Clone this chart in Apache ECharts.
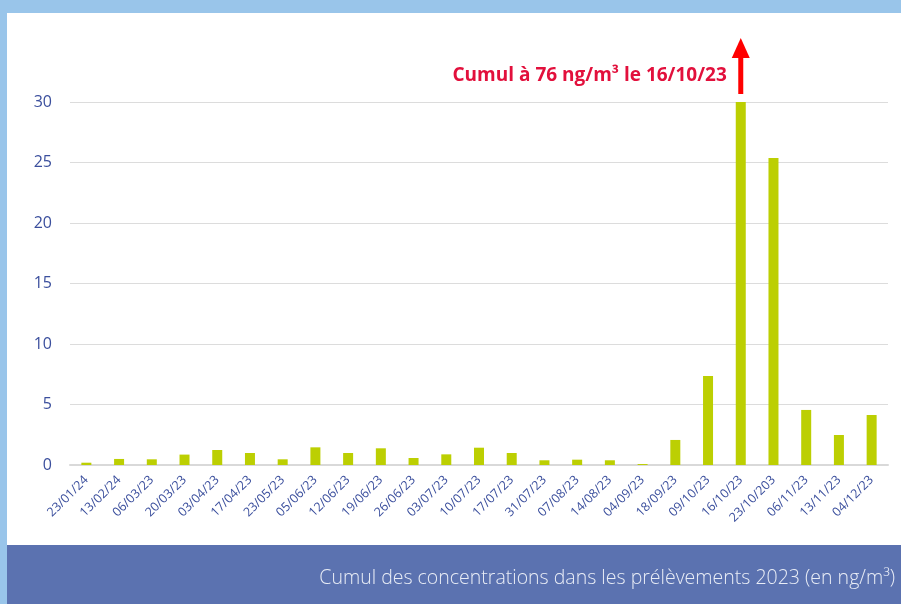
<!DOCTYPE html>
<html>
<head>
<meta charset="utf-8">
<script src="https://cdn.jsdelivr.net/npm/echarts@6/dist/echarts.min.js"></script>
<style>
  html, body { margin: 0; padding: 0; background: #99c5ea; }
  #chart { width: 901px; height: 604px; }
</style>
</head>
<body>
<div id="chart"></div>
<script>
// Sampling dates (labels as printed on the report)
const dates = [
  '23/01/24', '13/02/24', '06/03/23', '20/03/23', '03/04/23', '17/04/23',
  '23/05/23', '05/06/23', '12/06/23', '19/06/23', '26/06/23', '03/07/23',
  '10/07/23', '17/07/23', '31/07/23', '07/08/23', '14/08/23', '04/09/23',
  '18/09/23', '09/10/23', '16/10/23', '23/10/203', '06/11/23', '13/11/23',
  '04/12/23'
];

// Cumulated concentration per sample (ng/m³)
const cumul = [
  0.19, 0.5, 0.47, 0.86, 1.24, 0.99,
  0.47, 1.46, 0.99, 1.38, 0.58, 0.88,
  1.43, 0.99, 0.39, 0.44, 0.39, 0.08,
  2.07, 7.36, 76, 25.37, 4.55, 2.48,
  4.13
];

// Y axis ticks
const yTicks = [0, 5, 10, 15, 20, 25, 30];

// Peak annotation
const peakDate = '16/10/23';
const peakValue = 76;
const peakText = 'Cumul à ' + peakValue + ' ng/m³ le ' + peakDate;
const footerText = 'Cumul des concentrations dans les prélèvements 2023 (en ng/m³)';

const chart = echarts.init(document.getElementById('chart'), null, { renderer: 'canvas' });

const axisBlue = '#3b4f9d';

chart.setOption({
  backgroundColor: '#99c5ea',
  animation: false,
  grid: { left: 70, right: 13, top: 102, bottom: 139 },
  xAxis: {
    type: 'category',
    data: dates,
    axisLine: { lineStyle: { color: '#d9d9d9', width: 2 } },
    axisTick: { show: false },
    axisLabel: {
      rotate: 45,
      interval: 0,
      color: axisBlue,
      fontFamily: 'Open Sans',
      fontSize: 12.5,
      margin: 13
    }
  },
  yAxis: {
    type: 'value',
    min: yTicks[0],
    max: yTicks[yTicks.length - 1],
    interval: yTicks[1] - yTicks[0],
    axisLine: { show: false },
    axisTick: { show: false },
    splitLine: { lineStyle: { color: '#dcdcdc', width: 1 } },
    axisLabel: {
      color: axisBlue,
      fontFamily: 'Open Sans',
      fontSize: 16,
      margin: 18
    }
  },
  series: [{
    type: 'bar',
    data: cumul,
    barWidth: 10,
    clip: true,
    itemStyle: { color: '#bccf02' },
    z: 3
  }]
});

function drawDecor() {
  const top = chart.convertToPixel({ xAxisIndex: 0, yAxisIndex: 0 }, [peakDate, yTicks[yTicks.length - 1]]);
  const ax = top[0];
  const ay = top[1];
  chart.setOption({
    graphic: [
      // white panel with rounded upper-right corner
      {
        type: 'rect', z: -10, silent: true,
        shape: { x: 7, y: 13, width: 964, height: 560, r: [0, 66, 0, 0] },
        style: { fill: '#ffffff' }
      },
      // footer band
      {
        type: 'rect', z: -5, silent: true,
        shape: { x: 7, y: 545, width: 894, height: 59 },
        style: { fill: '#5b72b0' }
      },
      {
        type: 'text', z: 10, silent: true,
        x: 895, y: 578,
        style: {
          text: footerText,
          fill: '#e9edf6',
          font: '300 19.5px "Open Sans", "Noto Sans", sans-serif',
          textAlign: 'right',
          textVerticalAlign: 'middle'
        }
      },
      // arrow marking the off-scale peak
      {
        type: 'line', z: 10, silent: true,
        shape: { x1: ax, y1: ay - 8, x2: ax, y2: ay - 46 },
        style: { stroke: '#ff0000', lineWidth: 5 }
      },
      {
        type: 'polygon', z: 10, silent: true,
        shape: { points: [[ax - 9, ay - 44], [ax + 9, ay - 44], [ax, ay - 64]] },
        style: { fill: '#ff0000' }
      },
      {
        type: 'text', z: 10, silent: true,
        x: ax - 14, y: ay - 26,
        style: {
          text: peakText,
          fill: '#e2103c',
          font: 'bold 19px "Open Sans", "Noto Sans", sans-serif',
          textAlign: 'right',
          textVerticalAlign: 'middle'
        }
      }
    ]
  });
}
drawDecor();
</script>
</body>
</html>
